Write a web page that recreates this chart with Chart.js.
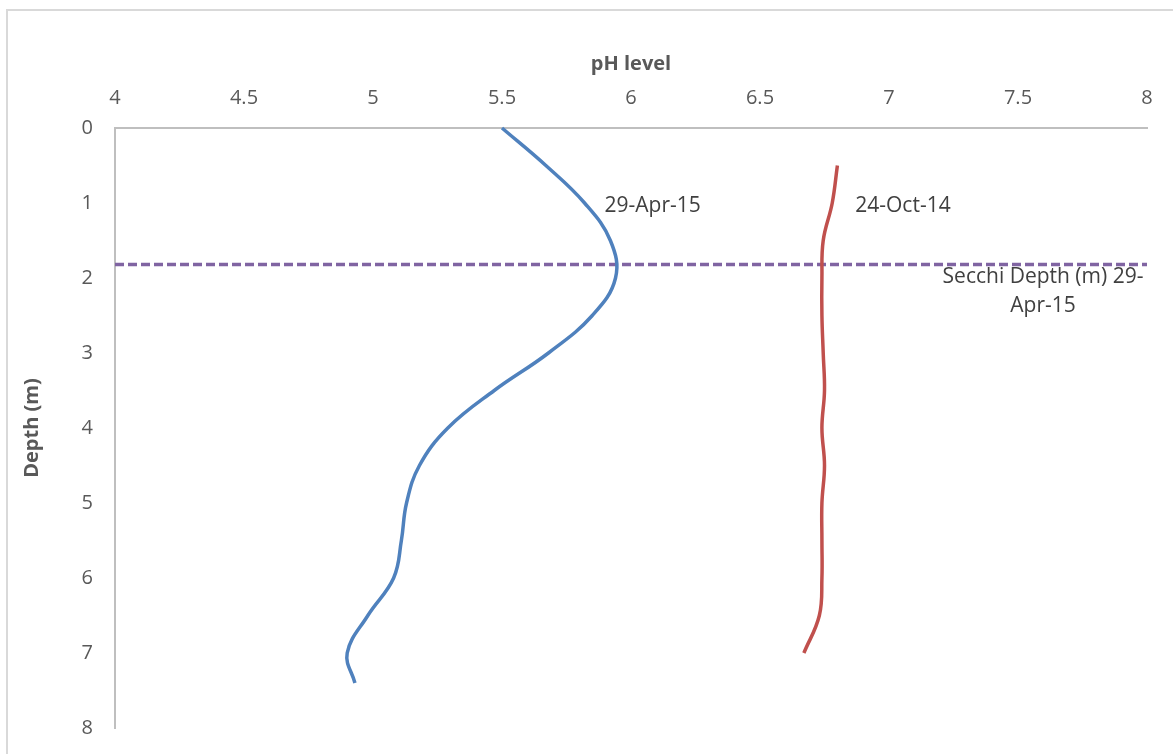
<!DOCTYPE html>
<html>
<head>
<meta charset="utf-8">
<script src="https://cdn.jsdelivr.net/npm/chart.js@4/dist/chart.umd.min.js"></script>
<style>
  html, body { margin: 0; padding: 0; background: #fff; }
  #wrap { position: relative; width: 1173px; height: 754px; overflow: hidden; }
  #frame { position: absolute; left: 6px; top: 9px; width: 1200px; height: 800px; border: 2px solid #d9d9d9; }
  #phChart { position: absolute; left: 0; top: 0; }
</style>
</head>
<body>
<div id="wrap">
  <div id="frame"></div>
  <canvas id="phChart" width="1173" height="754"></canvas>
</div>
<script>
// profile data
const depthApr15 = [0, 0.5, 1, 1.5, 2, 2.5, 3, 3.5, 4, 4.5, 5, 5.5, 6, 6.5, 7, 7.4];
const phApr15 = [5.50, 5.67, 5.82, 5.92, 5.94, 5.85, 5.68, 5.47, 5.29, 5.18, 5.13, 5.11, 5.08, 4.98, 4.90, 4.93];

const depthOct14 = [0.5, 1, 1.5, 2, 2.5, 3, 3.5, 4, 4.5, 5, 5.5, 6, 6.5, 7];
const phOct14 = [6.80, 6.78, 6.745, 6.74, 6.74, 6.745, 6.75, 6.74, 6.75, 6.74, 6.74, 6.74, 6.73, 6.67];

const secchiDepth = 1.82;
const secchiPh = [4, 8];

const seriesNames = ["29-Apr-15", "24-Oct-14", "Secchi Depth (m) 29-Apr-15"];

const toPoints = (xs, ys) => xs.map((x, i) => ({ x: x, y: ys[i] }));

const txtFont = "21px 'Open Sans'";

// data labels like excel puts them
const labelPlugin = {
    id: "seriesLabels",
    afterDatasetsDraw(chart) {
        const ctx = chart.ctx;
        const xs = chart.scales.x, ys = chart.scales.y;
        ctx.save();
        ctx.font = txtFont;
        ctx.fillStyle = "#404040";
        ctx.textBaseline = "middle";
        ctx.textAlign = "left";
        // blue label next to the 1 m point
        let i = depthApr15.indexOf(1);
        ctx.fillText(seriesNames[0], xs.getPixelForValue(phApr15[i]) + 20, ys.getPixelForValue(depthApr15[i]) + 3);
        i = depthOct14.indexOf(1);
        ctx.fillText(seriesNames[1], xs.getPixelForValue(phOct14[i]) + 23, ys.getPixelForValue(depthOct14[i]) + 3);
        // secchi label under right end
        ctx.textAlign = "center";
        const sx = xs.getPixelForValue(secchiPh[1]) - 104;
        const sy = ys.getPixelForValue(secchiDepth);
        ctx.fillText("Secchi Depth (m) 29-", sx, sy + 13);
        ctx.fillText("Apr-15", sx, sy + 42);
        ctx.restore();
    }
};

const canvas = document.getElementById("phChart");
new Chart(canvas.getContext("2d"), {
    type: "line",
    data: {
        datasets: [{
            label: seriesNames[0],
            data: toPoints(phApr15, depthApr15),
            borderColor: "#4f81bd",
            borderWidth: 3.5,
            tension: 0.4,
            pointRadius: 0,
            fill: false
        }, {
            label: seriesNames[1],
            data: toPoints(phOct14, depthOct14),
            borderColor: "#c0504d",
            borderWidth: 3.5,
            tension: 0.4,
            pointRadius: 0,
            fill: false
        }, {
            label: seriesNames[2],
            data: secchiPh.map(p => ({ x: p, y: secchiDepth })),
            borderColor: "#8064a2",
            borderWidth: 3.5,
            borderDash: [9, 4],
            pointRadius: 0,
            fill: false
        }]
    },
    options: {
        responsive: false,
        animation: false,
        clip: false,
        layout: { padding: { left: 0, right: 26, top: 0, bottom: 12 } },
        plugins: { legend: { display: false }, tooltip: { enabled: false } },
        scales: {
            x: {
                type: "linear",
                position: "top",
                min: 4,
                max: 8,
                grid: { display: false },
                border: { display: true, color: "#bfbfbf", width: 2 },
                ticks: { stepSize: 0.5, color: "#595959", font: { family: "Open Sans", size: 20 }, padding: 10,
                    callback: v => String(v) },
                title: { display: true, text: "pH level", color: "#595959", font: { family: "Open Sans", size: 20, weight: "bold" }, padding: { top: 52, bottom: 0 } },
                afterFit(scale) { scale.height = 128; }
            },
            y: {
                type: "linear",
                reverse: true,
                min: 0,
                max: 8,
                grid: { display: false },
                border: { display: true, color: "#bfbfbf", width: 2 },
                ticks: { stepSize: 1, color: "#595959", font: { family: "Open Sans", size: 20 }, padding: 14 },
                title: { display: true, text: "Depth (m)", color: "#595959", font: { family: "Open Sans", size: 20, weight: "bold" }, padding: { top: 20, bottom: 0 } },
                afterFit(scale) { scale.width = 115; }
            }
        }
    },
    plugins: [labelPlugin]
});
</script>
</body>
</html>
